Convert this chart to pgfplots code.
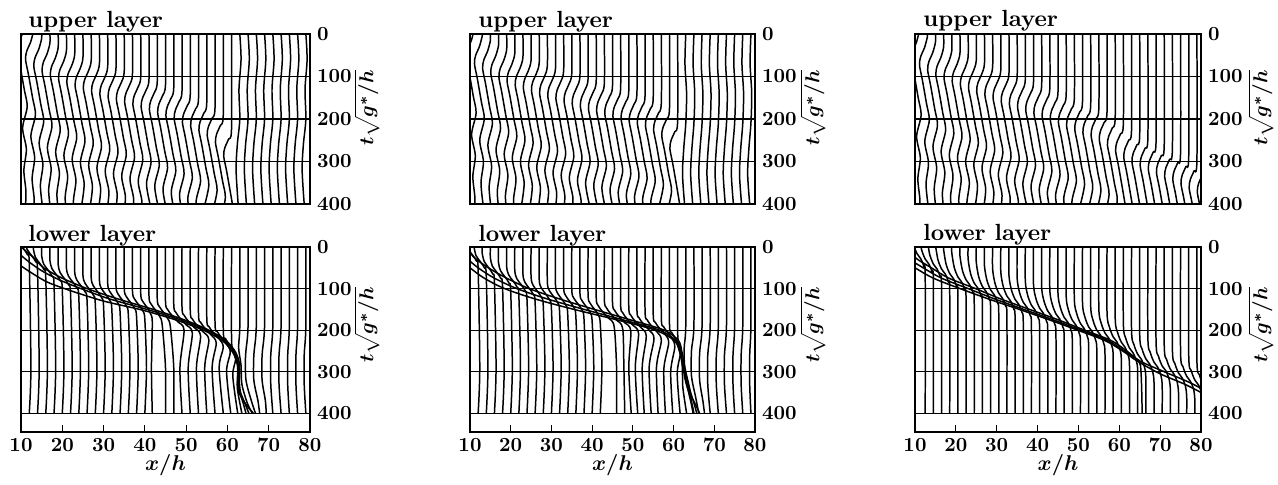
\documentclass[border=0pt]{standalone}
\usepackage{pgfplots}
\pgfplotsset{compat=1.18}

% one particle path: coordinates are (x/h, t*sqrt(g*/h))
\newcommand\tr[1]{\addplot[black,line width=0.85pt,smooth,tension=0.5] coordinates {#1};}

\pgfplotsset{
  traj/.style={
    scale only axis, anchor=north west,
    xmin=10, xmax=80, ymin=0, y dir=reverse,
    ytick={0,100,200,300,400}, yticklabel pos=right,
    ymajorgrids, grid style={black,line width=0.6pt},
    axis line style={line width=0.7pt},
    ytick style={draw=none},
    yticklabel style={font=\boldmath, scale=1.14},
    xticklabel style={font=\boldmath, scale=1.14},
  },
  up/.style={traj, height=3.4cm, ymax=400, xtick=\empty},
  low/.style={traj, height=3.7cm, ymax=445, xtick={10,20,...,80},
    xtick pos=left, xticklabel pos=left, tick align=inside,
    xtick style={black,line width=0.6pt}, major tick length=0.14cm},
}
\tikzset{ttl/.style={anchor=base west, inner sep=0pt, font=\bfseries, scale=1.33},
  ylab/.style={rotate=90, inner sep=0pt, font=\boldmath, scale=1.15},
  xlab/.style={inner sep=0pt, font=\boldmath, scale=1.22}}

\begin{document}
\begin{tikzpicture}
\path[use as bounding box] (0,0) rectangle (25.56,-9.7);

% ---------------- upper layer, panel 1
\begin{axis}[up, width=5.78cm, at={(0.42cm,-0.68cm)}]
\tr{(11,-24)(10.3,1)(9.4,21)(9.1,41)(9.8,76)(10.8,131)(11.5,171)(10.4,221)(11.3,271)(10.7,321)(11.2,371)(11,421)}
\tr{(13,-5)(12.3,20)(11.4,40)(11.1,60)(11.8,95)(12.8,150)(13.5,190)(12.4,240)(13.3,290)(12.7,340)(13.2,390)(13,440)}
\tr{(15,0)(15,11)(14.3,36)(13.4,56)(13.1,76)(13.8,111)(14.8,166)(15.5,206)(14.4,256)(15.3,306)(14.7,356)(15.2,406)}
\tr{(17,0)(17,22)(16.3,47)(15.4,67)(15.1,87)(15.8,122)(16.8,177)(17.5,217)(16.4,267)(17.3,317)(16.7,367)(17.2,417)}
\tr{(19,0)(19,32)(18.3,57)(17.4,77)(17.1,97)(17.8,132)(18.8,187)(19.5,227)(18.4,277)(19.3,327)(18.7,377)(19.2,427)}
\tr{(21,0)(21,40)(20.3,65)(19.4,85)(19.1,105)(19.8,140)(20.8,195)(21.5,235)(20.4,285)(21.3,335)(20.7,385)(21.2,435)}
\tr{(23,0)(23,49)(22.3,74)(21.4,94)(21.1,114)(21.8,149)(22.8,204)(23.5,244)(22.4,294)(23.3,344)(22.7,394)(23.2,444)}
\tr{(25,0)(25,57)(24.3,82)(23.4,102)(23.1,122)(23.8,157)(24.8,212)(25.5,252)(24.4,302)(25.3,352)(24.7,402)}
\tr{(27,0)(27,63)(26.3,88)(25.4,108)(25.1,128)(25.8,163)(26.8,218)(27.5,258)(26.4,308)(27.3,358)(26.7,408)}
\tr{(29,0)(29,70)(28.3,95)(27.4,115)(27.1,135)(27.8,170)(28.8,225)(29.5,265)(28.4,315)(29.3,365)(28.7,415)}
\tr{(31,0)(31,77)(30.3,102)(29.4,122)(29.1,142)(29.8,177)(30.8,232)(31.5,272)(30.4,322)(31.3,372)(30.7,422)}
\tr{(33,0)(33,83)(32.3,108)(31.4,128)(31.1,148)(31.8,183)(32.8,238)(33.5,278)(32.4,328)(33.3,378)(32.7,428)}
\tr{(35,0)(35,89)(34.3,114)(33.4,134)(33.1,154)(33.8,189)(34.8,244)(35.5,284)(34.4,334)(35.3,384)(34.7,434)}
\tr{(37,0)(37,95)(36.3,120)(35.4,140)(35.1,160)(35.8,195)(36.8,250)(37.5,290)(36.4,340)(37.3,390)(36.7,440)}
\tr{(39,0)(39,101)(38.3,126)(37.4,146)(37.1,166)(37.8,201)(38.8,256)(39.5,296)(38.4,346)(39.3,396)(38.7,446)}
\tr{(41,0)(41,107)(40.3,132)(39.4,152)(39.1,172)(39.8,207)(40.8,262)(41.5,302)(40.4,352)(41.3,402)}
\tr{(43,0)(43,113)(42.3,138)(41.4,158)(41.1,178)(41.8,213)(42.8,268)(43.5,308)(42.4,358)(43.3,408)}
\tr{(45,0)(45,120)(44.3,145)(43.4,165)(43.1,185)(43.8,220)(44.8,275)(45.5,315)(44.4,365)(45.3,415)}
\tr{(47,0)(47,127)(46.3,152)(45.4,172)(45.1,192)(45.8,227)(46.8,282)(47.5,322)(46.4,372)(47.3,422)}
\tr{(49,0)(49,134)(48.3,159)(47.4,179)(47.1,199)(47.8,234)(48.8,289)(49.5,329)(48.4,379)(49.3,429)}
\tr{(51,0)(51,143)(50.3,168)(49.4,188)(49.1,208)(49.8,243)(50.8,298)(51.5,338)(50.4,388)(51.3,438)}
\tr{(53,0)(53,151)(52.3,176)(51.4,196)(51.1,216)(51.8,251)(52.8,306)(53.5,346)(52.4,396)(53.3,446)}
\tr{(55,0)(55,161)(54.3,186)(53.4,206)(53.1,226)(53.8,261)(54.8,316)(55.5,356)(54.4,406)}
\tr{(57,0)(57,173)(56.3,198)(55.4,218)(55.1,238)(55.8,273)(56.8,328)(57.5,368)(56.4,418)}
\tr{(59,0)(59,190)(58.3,215)(57.4,235)(57.1,255)(57.8,290)(58.8,345)(59.5,385)(58.4,435)}
\tr{(61,0)(61,222)(60.3,247)(59.4,267)(59.1,287)(59.8,322)(60.8,377)(61.5,417)}
\tr{(63,0)(63.3,60)(62.8,130)(63,200)(62.4,260)(62.1,320)(62.6,400)}
\tr{(65,0)(65.3,60)(64.8,130)(65,200)(64.4,260)(64.1,320)(64.6,400)}
\tr{(67,0)(67.3,60)(66.8,130)(67,200)(66.4,260)(66.1,320)(66.6,400)}
\tr{(69,0)(69.3,60)(68.8,130)(69,200)(68.4,260)(68.1,320)(68.6,400)}
\tr{(71,0)(71.3,60)(70.8,130)(71,200)(70.4,260)(70.1,320)(70.6,400)}
\tr{(73,0)(73.3,60)(72.8,130)(73,200)(72.4,260)(72.1,320)(72.6,400)}
\tr{(75,0)(75.3,60)(74.8,130)(75,200)(74.4,260)(74.1,320)(74.6,400)}
\tr{(77,0)(77.3,60)(76.8,130)(77,200)(76.4,260)(76.1,320)(76.6,400)}
\tr{(79,0)(79.3,60)(78.8,130)(79,200)(78.4,260)(78.1,320)(78.6,400)}
\end{axis}

% ---------------- upper layer, panel 2
\begin{axis}[up, width=5.70cm, at={(9.40cm,-0.68cm)}]
\tr{(11,-9)(10.3,16)(9.4,36)(9.1,56)(9.8,91)(10.8,146)(11.5,186)(10.4,236)(11.3,286)(10.7,336)(11.2,386)(11,436)}
\tr{(13,0)(13,5)(12.3,30)(11.4,50)(11.1,70)(11.8,105)(12.8,160)(13.5,200)(12.4,250)(13.3,300)(12.7,350)(13.2,400)}
\tr{(15,0)(15,16)(14.3,41)(13.4,61)(13.1,81)(13.8,116)(14.8,171)(15.5,211)(14.4,261)(15.3,311)(14.7,361)(15.2,411)}
\tr{(17,0)(17,27)(16.3,52)(15.4,72)(15.1,92)(15.8,127)(16.8,182)(17.5,222)(16.4,272)(17.3,322)(16.7,372)(17.2,422)}
\tr{(19,0)(19,37)(18.3,62)(17.4,82)(17.1,102)(17.8,137)(18.8,192)(19.5,232)(18.4,282)(19.3,332)(18.7,382)(19.2,432)}
\tr{(21,0)(21,46)(20.3,71)(19.4,91)(19.1,111)(19.8,146)(20.8,201)(21.5,241)(20.4,291)(21.3,341)(20.7,391)(21.2,441)}
\tr{(23,0)(23,55)(22.3,80)(21.4,100)(21.1,120)(21.8,155)(22.8,210)(23.5,250)(22.4,300)(23.3,350)(22.7,400)}
\tr{(25,0)(25,62)(24.3,87)(23.4,107)(23.1,127)(23.8,162)(24.8,217)(25.5,257)(24.4,307)(25.3,357)(24.7,407)}
\tr{(27,0)(27,68)(26.3,93)(25.4,113)(25.1,133)(25.8,168)(26.8,223)(27.5,263)(26.4,313)(27.3,363)(26.7,413)}
\tr{(29,0)(29,75)(28.3,100)(27.4,120)(27.1,140)(27.8,175)(28.8,230)(29.5,270)(28.4,320)(29.3,370)(28.7,420)}
\tr{(31,0)(31,81)(30.3,106)(29.4,126)(29.1,146)(29.8,181)(30.8,236)(31.5,276)(30.4,326)(31.3,376)(30.7,426)}
\tr{(33,0)(33,87)(32.3,112)(31.4,132)(31.1,152)(31.8,187)(32.8,242)(33.5,282)(32.4,332)(33.3,382)(32.7,432)}
\tr{(35,0)(35,93)(34.3,118)(33.4,138)(33.1,158)(33.8,193)(34.8,248)(35.5,288)(34.4,338)(35.3,388)(34.7,438)}
\tr{(37,0)(37,99)(36.3,124)(35.4,144)(35.1,164)(35.8,199)(36.8,254)(37.5,294)(36.4,344)(37.3,394)(36.7,444)}
\tr{(39,0)(39,105)(38.3,130)(37.4,150)(37.1,170)(37.8,205)(38.8,260)(39.5,300)(38.4,350)(39.3,400)}
\tr{(41,0)(41,111)(40.3,136)(39.4,156)(39.1,176)(39.8,211)(40.8,266)(41.5,306)(40.4,356)(41.3,406)}
\tr{(43,0)(43,116)(42.3,141)(41.4,161)(41.1,181)(41.8,216)(42.8,271)(43.5,311)(42.4,361)(43.3,411)}
\tr{(45,0)(45,122)(44.3,147)(43.4,167)(43.1,187)(43.8,222)(44.8,277)(45.5,317)(44.4,367)(45.3,417)}
\tr{(47,0)(47,128)(46.3,153)(45.4,173)(45.1,193)(45.8,228)(46.8,283)(47.5,323)(46.4,373)(47.3,423)}
\tr{(49,0)(49,134)(48.3,159)(47.4,179)(47.1,199)(47.8,234)(48.8,289)(49.5,329)(48.4,379)(49.3,429)}
\tr{(51,0)(51,140)(50.3,165)(49.4,185)(49.1,205)(49.8,240)(50.8,295)(51.5,335)(50.4,385)(51.3,435)}
\tr{(53,0)(53,145)(52.3,170)(51.4,190)(51.1,210)(51.8,245)(52.8,300)(53.5,340)(52.4,390)(53.3,440)}
\tr{(55,0)(55,151)(54.3,176)(53.4,196)(53.1,216)(53.8,251)(54.8,306)(55.5,346)(54.4,396)(55.3,446)}
\tr{(57,0)(57,161)(56.3,186)(55.4,206)(55.1,226)(55.8,261)(56.8,316)(57.5,356)(56.4,406)}
\tr{(59,0)(59,175)(58.3,200)(57.4,220)(57.1,240)(57.8,275)(58.8,330)(59.5,370)(58.4,420)}
\tr{(61,0)(61,205)(60.3,230)(59.4,250)(59.1,270)(59.8,305)(60.8,360)(61.5,400)}
\tr{(63,0)(62.8,70)(63.2,140)(63,210)(62.5,270)(62.2,330)(62.7,400)}
\tr{(65,0)(64.8,70)(65.2,140)(65,210)(64.5,270)(64.2,330)(64.7,400)}
\tr{(67,0)(66.8,70)(67.2,140)(67,210)(66.5,270)(66.2,330)(66.7,400)}
\tr{(69,0)(68.8,70)(69.2,140)(69,210)(68.5,270)(68.2,330)(68.7,400)}
\tr{(71,0)(70.8,70)(71.2,140)(71,210)(70.5,270)(70.2,330)(70.7,400)}
\tr{(73,0)(72.8,70)(73.2,140)(73,210)(72.5,270)(72.2,330)(72.7,400)}
\tr{(75,0)(74.8,70)(75.2,140)(75,210)(74.5,270)(74.2,330)(74.7,400)}
\tr{(77,0)(76.8,70)(77.2,140)(77,210)(76.5,270)(76.2,330)(76.7,400)}
\tr{(79,0)(78.8,70)(79.2,140)(79,210)(78.5,270)(78.2,330)(78.7,400)}
\end{axis}

% ---------------- upper layer, panel 3
\begin{axis}[up, width=5.72cm, at={(18.30cm,-0.68cm)}]
\tr{(11,-4)(10.3,21)(9.4,41)(9.1,61)(9.8,96)(10.8,151)(11.5,191)(10.4,241)(11.3,291)(10.7,341)(11.2,391)(11,441)}
\tr{(13,0)(13,8)(12.3,33)(11.4,53)(11.1,73)(11.8,108)(12.8,163)(13.5,203)(12.4,253)(13.3,303)(12.7,353)(13.2,403)}
\tr{(15,0)(15,20)(14.3,45)(13.4,65)(13.1,85)(13.8,120)(14.8,175)(15.5,215)(14.4,265)(15.3,315)(14.7,365)(15.2,415)}
\tr{(17,0)(17,31)(16.3,56)(15.4,76)(15.1,96)(15.8,131)(16.8,186)(17.5,226)(16.4,276)(17.3,326)(16.7,376)(17.2,426)}
\tr{(19,0)(19,39)(18.3,64)(17.4,84)(17.1,104)(17.8,139)(18.8,194)(19.5,234)(18.4,284)(19.3,334)(18.7,384)(19.2,434)}
\tr{(21,0)(21,46)(20.3,71)(19.4,91)(19.1,111)(19.8,146)(20.8,201)(21.5,241)(20.4,291)(21.3,341)(20.7,391)(21.2,441)}
\tr{(23,0)(23,54)(22.3,79)(21.4,99)(21.1,119)(21.8,154)(22.8,209)(23.5,249)(22.4,299)(23.3,349)(22.7,399)(23.2,449)}
\tr{(25,0)(25,62)(24.3,87)(23.4,107)(23.1,127)(23.8,162)(24.8,217)(25.5,257)(24.4,307)(25.3,357)(24.7,407)}
\tr{(27,0)(27,70)(26.3,95)(25.4,115)(25.1,135)(25.8,170)(26.8,225)(27.5,265)(26.4,315)(27.3,365)(26.7,415)}
\tr{(29,0)(29,78)(28.3,103)(27.4,123)(27.1,143)(27.8,178)(28.8,233)(29.5,273)(28.4,323)(29.3,373)(28.7,423)}
\tr{(31,0)(31,85)(30.3,110)(29.4,130)(29.1,150)(29.8,185)(30.8,240)(31.5,280)(30.4,330)(31.3,380)(30.7,430)}
\tr{(33,0)(33,93)(32.3,118)(31.4,138)(31.1,158)(31.8,193)(32.8,248)(33.5,288)(32.4,338)(33.3,388)(32.7,438)}
\tr{(35,0)(35,100)(34.3,125)(33.4,145)(33.1,165)(33.8,200)(34.8,255)(35.5,295)(34.4,345)(35.3,395)(34.7,445)}
\tr{(37,0)(37,107)(36.3,132)(35.4,152)(35.1,172)(35.8,207)(36.8,262)(37.5,302)(36.4,352)(37.3,402)}
\tr{(39,0)(39,114)(38.3,139)(37.4,159)(37.1,179)(37.8,214)(38.8,269)(39.5,309)(38.4,359)(39.3,409)}
\tr{(41,0)(41,121)(40.3,146)(39.4,166)(39.1,186)(39.8,221)(40.8,276)(41.5,316)(40.4,366)(41.3,416)}
\tr{(43,0)(43,128)(42.3,153)(41.4,173)(41.1,193)(41.8,228)(42.8,283)(43.5,323)(42.4,373)(43.3,423)}
\tr{(45,0)(45,136)(44.3,161)(43.4,181)(43.1,201)(43.8,236)(44.8,291)(45.5,331)(44.4,381)(45.3,431)}
\tr{(47,0)(47,143)(46.3,168)(45.4,188)(45.1,208)(45.8,243)(46.8,298)(47.5,338)(46.4,388)(47.3,438)}
\tr{(49,0)(49,151)(48.3,176)(47.4,196)(47.1,216)(47.8,251)(48.8,306)(49.5,346)(48.4,396)(49.3,446)}
\tr{(51,0)(51,159)(50.3,184)(49.4,204)(49.1,224)(49.8,259)(50.8,314)(51.5,354)(50.4,404)}
\tr{(53,0)(53,167)(52.3,192)(51.4,212)(51.1,232)(51.8,267)(52.8,322)(53.5,362)(52.4,412)}
\tr{(55,0)(55,174)(54.3,199)(53.4,219)(53.1,239)(53.8,274)(54.8,329)(55.5,369)(54.4,419)}
\tr{(57,0)(57,183)(56.3,208)(55.4,228)(55.1,248)(55.8,283)(56.8,338)(57.5,378)(56.4,428)}
\tr{(59,0)(59,196)(58.3,221)(57.4,241)(57.1,261)(57.8,296)(58.8,351)(59.5,391)(58.4,441)}
\tr{(61,0)(61,210)(60.3,235)(59.4,255)(59.1,275)(59.8,310)(60.8,365)(61.5,405)}
\tr{(63,0)(63,225)(62.3,250)(61.4,270)(61.1,290)(61.8,325)(62.8,380)(63.5,420)}
\tr{(65,0)(65,236)(64.3,261)(63.4,281)(63.1,301)(63.8,336)(64.8,391)(65.5,431)}
\tr{(67,0)(67,244)(66.3,269)(65.4,289)(65.1,309)(65.8,344)(66.8,399)(67.5,439)}
\tr{(69,0)(69,253)(68.3,278)(67.4,298)(67.1,318)(67.8,353)(68.8,408)}
\tr{(71,0)(71,261)(70.3,286)(69.4,306)(69.1,326)(69.8,361)(70.8,416)}
\tr{(73,0)(73,270)(72.3,295)(71.4,315)(71.1,335)(71.8,370)(72.8,425)}
\tr{(75,0)(75,278)(74.3,303)(73.4,323)(73.1,343)(73.8,378)(74.8,433)}
\tr{(77,0)(77,287)(76.3,312)(75.4,332)(75.1,352)(75.8,387)(76.8,442)}
\tr{(79,0)(79,297)(78.3,322)(77.4,342)(77.1,362)(77.8,397)(78.8,452)}
\tr{(81,0)(81,307)(80.3,332)(79.4,352)(79.1,372)(79.8,407)}
\end{axis}

% ---------------- lower layer, panel 1
\begin{axis}[low, width=5.78cm, at={(0.42cm,-4.94cm)}]
\tr{(10,0)(13,25)(15.5,50)(20,75)(26,100)(33.5,125)(42,150)(49.5,175)(55.5,200)(59.6,225)(61.8,250)(62.8,275)(63,300)(62.9,325)(63.2,350)(64.2,375)(65.2,400)}
\tr{(8,0)(10,20)(12.5,40)(15.5,60)(19.5,80)(24.5,100)(31.5,125)(40.5,150)(48.5,175)(55,200)(59.3,225)(61.5,250)(62.5,275)(62.7,300)(62.6,325)(63,350)(63.8,375)(64.5,400)}
\tr{(6,0)(8,25)(10,45)(13,65)(16.5,85)(22,105)(30,130)(39.5,152)(48,177)(54.6,202)(59,227)(61.2,252)(62.3,277)(62.5,300)(62.4,325)(62.8,350)(64.6,380)(66.3,400)}
\tr{(9,-31)(9.5,-11)(10.6,4)(11.6,19)(12,39)(12.4,290)(12,400)}
\tr{(11,-14)(11.5,6)(12.6,21)(13.6,36)(14,56)(14.4,290)(14,400)}
\tr{(13,0)(13,5)(13.5,25)(14.6,40)(15.6,55)(16,75)(16.4,290)(16,400)}
\tr{(15,0)(15,21)(15.5,41)(16.6,56)(17.6,71)(18,91)(18.4,290)(18,400)}
\tr{(17,0)(17,32)(17.5,52)(18.6,67)(19.6,82)(20,102)(20.4,290)(20,400)}
\tr{(19,0)(19,42)(19.5,62)(20.6,77)(21.6,92)(22,112)(22.4,290)(22,400)}
\tr{(21,0)(21,50)(21.5,70)(22.6,85)(23.6,100)(24,120)(24.4,290)(24,400)}
\tr{(23,0)(23,59)(23.5,79)(24.6,94)(25.6,109)(26,129)(26.4,290)(26,400)}
\tr{(25,0)(25,67)(25.5,87)(26.6,102)(27.6,117)(28,137)(28.4,290)(28,400)}
\tr{(27,0)(27,73)(27.5,93)(28.6,108)(29.6,123)(30,143)(30.4,290)(30,400)}
\tr{(29,0)(29,80)(29.5,100)(30.6,115)(31.6,130)(32,150)(32.4,290)(32,400)}
\tr{(31,0)(31,87)(31.5,107)(32.6,122)(33.6,137)(34,157)(34.4,290)(34,400)}
\tr{(33,0)(33,93)(33.5,113)(34.6,128)(35.6,143)(36,163)(36.4,290)(36,400)}
\tr{(35,0)(35,99)(35.5,119)(36.6,134)(37.6,149)(38,169)(38.4,290)(38,400)}
\tr{(37,0)(37,105)(37.5,125)(38.6,140)(39.6,155)(40,175)(40.4,290)(40,400)}
\tr{(39,0)(39,111)(39.5,131)(40.6,146)(41.4,161)(41.8,181)(41.6,290)(41.8,400)}
\tr{(41,0)(41,117)(41.5,137)(42.6,152)(43.6,167)(44.2,187)(45,290)(45,400)}
\tr{(43,0)(43,123)(43.5,143)(44.6,158)(45.6,173)(46.2,193)(47,290)(47,400)}
\tr{(45,0)(45,130)(45.5,150)(46.6,165)(48,180)(49.5,200)(48.5,290)(49,400)}
\tr{(47,0)(47,137)(47.5,157)(48.6,172)(50,187)(51.5,207)(50.5,290)(51,400)}
\tr{(49,0)(49,144)(49.5,164)(50.6,179)(52,194)(53.5,214)(52.5,290)(53,400)}
\tr{(51,0)(51,153)(51.5,173)(52.6,188)(54,203)(55.5,223)(54.5,290)(55,400)}
\tr{(53,0)(53,161)(53.5,181)(54.6,196)(56,211)(57.3,231)(56.3,290)(57,400)}
\tr{(55,0)(55,171)(55.5,191)(56.6,206)(58,221)(59,241)(58,290)(59,400)}
\tr{(57,0)(57,183)(57.5,203)(58.6,218)(59.8,233)(60.7,253)(59.8,300)(60.8,400)}
\tr{(59,0)(59,200)(59.5,220)(60.5,235)(61.4,250)(62,270)(61.3,310)(62.5,400)}
\tr{(61,0)(61,220)(61.4,245)(62,267)(62.5,285)(62.6,310)(62.4,340)(63.5,400)}
\tr{(63,0)(63,190)(62.7,240)(63.3,285)(63.5,330)(64.8,375)(66,400)}
\tr{(65,0)(65,190)(64.4,260)(64.5,320)(65.8,370)(66.8,400)}
\tr{(67,0)(67,190)(66.4,260)(66.4,320)(67.4,370)(67.8,400)}
\tr{(69,0)(69,190)(68.4,260)(68.4,320)(69.2,370)(69.4,400)}
\tr{(71,0)(71,190)(70.5,260)(70.5,330)(71,400)}
\tr{(73,0)(73,190)(72.5,260)(72.5,330)(73,400)}
\tr{(75,0)(75,190)(74.6,260)(74.6,330)(75,400)}
\tr{(77,0)(77,190)(76.6,260)(76.6,330)(77,400)}
\tr{(79,0)(79,190)(78.6,260)(78.6,330)(79,400)}
\end{axis}

% ---------------- lower layer, panel 2
\begin{axis}[low, width=5.70cm, at={(9.40cm,-4.94cm)}]
\tr{(9,0)(11,25)(14.5,50)(19,75)(24.5,100)(32,125)(40.5,150)(49.3,175)(57.7,200)(61.2,225)(62,250)(62.5,275)(63,300)(63.6,325)(64.2,350)(65,375)(65.7,400)}
\tr{(7,0)(9,25)(12,50)(16,75)(21.5,100)(29,125)(38,150)(47.5,175)(56.5,200)(60.6,225)(61.6,250)(62.2,275)(62.7,300)(63.2,325)(63.7,350)(64.3,375)(64.8,400)}
\tr{(5,0)(7,25)(10,50)(13.5,75)(18.5,100)(26,125)(35.5,150)(46,175)(55.5,200)(60.2,225)(61.4,250)(62,275)(62.5,300)(63,325)(63.8,350)(65.2,375)(66.4,400)}
\tr{(9,-16)(9.5,4)(10.6,19)(11.6,34)(12,54)(12.4,290)(12,400)}
\tr{(11,0)(11,1)(11.5,21)(12.6,36)(13.6,51)(14,71)(14.4,290)(14,400)}
\tr{(13,0)(13,15)(13.5,35)(14.6,50)(15.6,65)(16,85)(16.4,290)(16,400)}
\tr{(15,0)(15,26)(15.5,46)(16.6,61)(17.6,76)(18,96)(18.4,290)(18,400)}
\tr{(17,0)(17,37)(17.5,57)(18.6,72)(19.6,87)(20,107)(20.4,290)(20,400)}
\tr{(19,0)(19,47)(19.5,67)(20.6,82)(21.6,97)(22,117)(22.4,290)(22,400)}
\tr{(21,0)(21,56)(21.5,76)(22.6,91)(23.6,106)(24,126)(24.4,290)(24,400)}
\tr{(23,0)(23,65)(23.5,85)(24.6,100)(25.6,115)(26,135)(26.4,290)(26,400)}
\tr{(25,0)(25,72)(25.5,92)(26.6,107)(27.6,122)(28,142)(28.4,290)(28,400)}
\tr{(27,0)(27,78)(27.5,98)(28.6,113)(29.6,128)(30,148)(30.4,290)(30,400)}
\tr{(29,0)(29,85)(29.5,105)(30.6,120)(31.6,135)(32,155)(32.4,290)(32,400)}
\tr{(31,0)(31,91)(31.5,111)(32.6,126)(33.6,141)(34,161)(34.4,290)(34,400)}
\tr{(33,0)(33,97)(33.5,117)(34.6,132)(35.6,147)(36,167)(36.4,290)(36,400)}
\tr{(35,0)(35,103)(35.5,123)(36.6,138)(37.6,153)(38,173)(38.4,290)(38,400)}
\tr{(37,0)(37,109)(37.5,129)(38.6,144)(39.6,159)(40,179)(40.4,290)(40,400)}
\tr{(39,0)(39,115)(39.5,135)(40.6,150)(41.6,165)(42,185)(42.4,290)(42,400)}
\tr{(41,0)(41,121)(41.5,141)(42.6,156)(44,171)(45.4,191)(46,290)(46,400)}
\tr{(43,0)(43,126)(43.5,146)(44.6,161)(46,176)(47.5,196)(47.8,290)(48,400)}
\tr{(45,0)(45,132)(45.5,152)(46.6,167)(48,182)(49.5,202)(49,290)(49.6,400)}
\tr{(47,0)(47,138)(47.5,158)(48.6,173)(50,188)(51.4,208)(50.6,290)(51.2,400)}
\tr{(49,0)(49,144)(49.5,164)(50.6,179)(52,194)(53.3,214)(52.3,290)(52.8,400)}
\tr{(51,0)(51,150)(51.5,170)(52.6,185)(54,200)(55.2,220)(54,290)(54.5,400)}
\tr{(53,0)(53,155)(53.5,175)(54.6,190)(56,205)(57,225)(55.8,290)(56.2,400)}
\tr{(55,0)(55,161)(55.5,181)(56.6,196)(58,211)(58.8,231)(57.6,295)(58,400)}
\tr{(57,0)(57,171)(57.5,191)(58.6,206)(59.7,221)(60.3,241)(59.3,300)(59.8,400)}
\tr{(59,0)(59,185)(59.5,205)(60.5,220)(61.3,235)(61.7,255)(60.9,305)(61.6,400)}
\tr{(61,0)(61,200)(61.3,230)(61.8,255)(62.1,280)(62.2,310)(62.3,340)(63.2,400)}
\tr{(63,0)(63,190)(62.6,245)(62.8,300)(63.8,345)(64.6,380)(65,400)}
\tr{(65,0)(65,190)(64.4,250)(64.4,310)(65.4,360)(66.2,400)}
\tr{(67,0)(67,190)(66.4,255)(66.4,320)(67.2,370)(67.6,400)}
\tr{(69,0)(69,190)(68.4,260)(68.4,330)(69,400)}
\tr{(71,0)(71,190)(70.5,260)(70.5,330)(71,400)}
\tr{(73,0)(73,190)(72.5,260)(72.5,330)(73,400)}
\tr{(75,0)(75,190)(74.6,260)(74.6,330)(75,400)}
\tr{(77,0)(77,190)(76.6,260)(76.6,330)(77,400)}
\tr{(79,0)(79,190)(78.7,260)(78.7,330)(79,400)}
\end{axis}

% ---------------- lower layer, panel 3
\begin{axis}[low, width=5.72cm, at={(18.30cm,-4.94cm)}]
\tr{(8.5,0)(10,25)(14,50)(18.3,75)(24.8,100)(31,125)(38,150)(45,175)(51.5,200)(58,225)(61.8,250)(65.2,275)(71,300)(77,325)(82,350)}
\tr{(6,0)(8,25)(12,50)(16.5,75)(23,100)(29.5,125)(36.6,150)(43.8,175)(50.6,200)(57.2,225)(61.2,250)(64.8,275)(65.3,300)(65.5,350)(65.6,400)}
\tr{(4,0)(6,25)(10,50)(14.5,75)(21,100)(28,125)(35.5,150)(42.8,175)(49.8,200)(56.5,225)(60.8,250)(64.5,275)(70,305)(76,330)(81,355)}
\tr{(9,-42)(9.6,-7)(10.5,16)(11.4,28)(12.2,48)(12.5,73)(12.5,400)}
\tr{(11,-29)(11.6,6)(12.5,29)(13.4,41)(14.2,61)(14.5,86)(14.5,400)}
\tr{(13,-17)(13.6,18)(14.5,41)(15.4,53)(16.2,73)(16.5,98)(16.5,400)}
\tr{(15,-5)(15.6,30)(16.5,53)(17.4,65)(18.2,85)(18.5,110)(18.5,400)}
\tr{(17,0)(17,6)(17.6,41)(18.5,64)(19.4,76)(20.2,96)(20.5,121)(20.5,400)}
\tr{(19,0)(19,14)(19.6,49)(20.5,72)(21.4,84)(22.2,104)(22.5,129)(22.5,400)}
\tr{(21,0)(21,21)(21.6,56)(22.5,79)(23.4,91)(24.2,111)(24.5,136)(24.5,400)}
\tr{(23,0)(23,29)(23.6,64)(24.5,87)(25.4,99)(26.2,119)(26.5,144)(26.5,400)}
\tr{(25,0)(25,37)(25.6,72)(26.5,95)(27.4,107)(28.2,127)(28.5,152)(28.5,400)}
\tr{(27,0)(27,45)(27.6,80)(28.5,103)(29.4,115)(30.2,135)(30.5,160)(30.5,400)}
\tr{(29,0)(29,53)(29.6,88)(30.5,111)(31.4,123)(32.2,143)(32.5,168)(32.5,400)}
\tr{(31,0)(31,60)(31.6,95)(32.5,118)(33.4,130)(34.2,150)(34.5,175)(34.5,400)}
\tr{(33,0)(33,68)(33.6,103)(34.5,126)(35.4,138)(36.2,158)(36.5,183)(36.5,400)}
\tr{(35,0)(35,75)(35.6,110)(36.5,133)(37.4,145)(38.2,165)(38.5,190)(38.5,400)}
\tr{(37,0)(37,82)(37.6,117)(38.5,140)(39.4,152)(40.2,172)(40.5,197)(40.5,400)}
\tr{(39,0)(39,89)(39.6,124)(40.5,147)(41.4,159)(42.2,179)(42.5,204)(42.5,400)}
\tr{(41,0)(41,96)(41.6,131)(42.5,154)(43.4,166)(44.2,186)(44.5,211)(44.5,400)}
\tr{(43,0)(43,103)(43.6,138)(44.5,161)(45.4,173)(46.2,193)(46.5,218)(46.5,400)}
\tr{(45,0)(45,111)(45.6,146)(46.5,169)(47.4,181)(48.2,201)(48.5,226)(48.5,400)}
\tr{(47,0)(47,118)(47.6,153)(48.5,176)(49.4,188)(50.2,208)(50.5,233)(50.5,400)}
\tr{(49,0)(49,126)(49.6,161)(50.5,184)(51.4,196)(52.2,216)(52.5,241)(52.5,400)}
\tr{(51,0)(51,134)(51.6,169)(52.5,192)(53.4,204)(54.2,224)(54.5,249)(54.5,400)}
\tr{(53,0)(53,142)(53.6,177)(54.5,200)(55.4,212)(56.2,232)(56.5,257)(56.5,400)}
\tr{(55,0)(55,149)(55.6,184)(56.5,207)(57.4,219)(58.2,239)(58.5,264)(58.5,400)}
\tr{(57,0)(57,158)(57.6,193)(58.5,216)(59.4,228)(60.2,248)(60.5,273)(60.5,400)}
\tr{(59,0)(59,171)(59.6,206)(60.5,229)(61.4,241)(62.2,261)(62.5,286)(62.5,400)}
\tr{(61,0)(61,185)(61.6,220)(62.5,243)(63.4,255)(64.2,275)(64.5,300)(64.5,400)}
\tr{(63,0)(63,200)(63.6,235)(64.5,258)(65.4,270)(66.2,290)(66.5,315)(66.5,400)}
\tr{(65,0)(65,211)(65.6,246)(66.5,269)(67.4,281)(68.2,301)(68.5,326)(68.5,400)}
\tr{(67,0)(67,219)(67.6,254)(68.5,277)(69.4,289)(70.2,309)(70.5,334)(70.5,400)}
\tr{(69,0)(69,228)(69.6,263)(70.5,286)(71.4,298)(72.2,318)(72.5,343)(72.5,400)}
\tr{(71,0)(71,236)(71.6,271)(72.5,294)(73.4,306)(74.2,326)(74.5,351)(74.5,400)}
\tr{(73,0)(73,245)(73.6,280)(74.5,303)(75.4,315)(76.2,335)(76.5,360)(76.5,400)}
\tr{(75,0)(75,253)(75.6,288)(76.5,311)(77.4,323)(78.2,343)(78.5,368)(78.5,400)}
\tr{(77,0)(77,262)(77.6,297)(78.5,320)(79.4,332)(80.2,352)(80.5,377)(80.5,400)}
\tr{(79,0)(79,272)(79.6,307)(80.5,330)(81.4,342)(82.2,362)(82.5,387)(82.5,400)}
\end{axis}

% titles and axis labels
\node[ttl] at (0.56,-0.56) {upper layer};
\node[ttl] at (9.56,-0.56) {upper layer};
\node[ttl] at (18.46,-0.54) {upper layer};
\node[ttl] at (0.56,-4.82) {lower layer};
\node[ttl] at (9.56,-4.82) {lower layer};
\node[ttl] at (18.46,-4.80) {lower layer};
\node[ylab] at (7.34,-2.16) {$t\sqrt{g^*/h}$};
\node[ylab] at (16.26,-2.16) {$t\sqrt{g^*/h}$};
\node[ylab] at (25.22,-2.16) {$t\sqrt{g^*/h}$};
\node[ylab] at (7.34,-6.50) {$t\sqrt{g^*/h}$};
\node[ylab] at (16.26,-6.50) {$t\sqrt{g^*/h}$};
\node[ylab] at (25.22,-6.50) {$t\sqrt{g^*/h}$};
\node[xlab] at (3.31,-9.30) {$x/h$};
\node[xlab] at (12.25,-9.30) {$x/h$};
\node[xlab] at (21.16,-9.30) {$x/h$};
\end{tikzpicture}
\end{document}
